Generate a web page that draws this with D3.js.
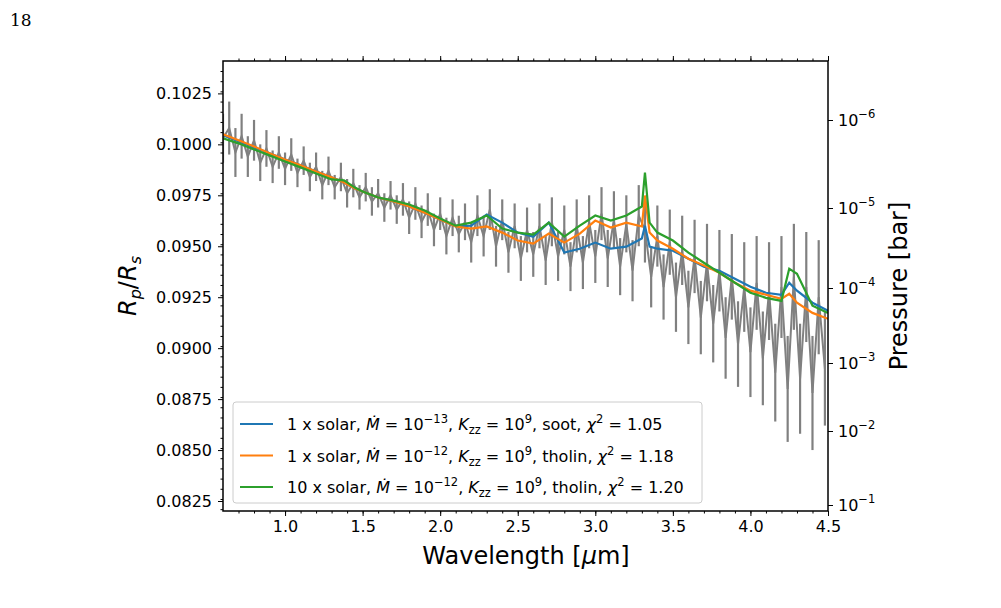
<!DOCTYPE html>
<html><head><meta charset="utf-8">
<script src="https://cdn.jsdelivr.net/npm/d3@7"></script>
<style>body{margin:0;background:#fff}svg text{font-family:"DejaVu Sans",sans-serif}</style>
</head><body><svg id="c" width="1001" height="608"></svg>
<script>
// observed spectrum: [wavelength, Rp/Rs, error]
var obs = [
[0.60,0.1003,.0012],[0.64,0.1008,.0013],[0.68,0.0996,.0012],[0.72,0.1004,.0011],[0.76,0.0994,.0010],
[0.80,0.1002,.0010],[0.84,0.0991,.0009],[0.88,0.0998,.0009],[0.92,0.0989,.0008],[0.96,0.0996,.0008],
[1.00,0.0988,.0008],[1.04,0.0995,.0008],[1.08,0.0986,.0007],[1.12,0.0992,.0007],[1.16,0.0984,.0007],
[1.20,0.0989,.0007],[1.24,0.0980,.0007],[1.28,0.0987,.0007],[1.32,0.0979,.0006],[1.36,0.0984,.0007],
[1.40,0.0976,.0007],[1.44,0.0981,.0007],[1.48,0.0974,.0006],[1.52,0.0979,.0007],[1.56,0.0972,.0007],
[1.60,0.0976,.0007],[1.64,0.0969,.0007],[1.68,0.0975,.0007],[1.72,0.0968,.0007],[1.76,0.0973,.0008],
[1.80,0.0964,.0008],[1.84,0.0971,.0008],[1.88,0.0962,.0008],[1.92,0.0968,.0008],[1.96,0.0958,.0008],
[2.00,0.0966,.0008],[2.04,0.0955,.0009],[2.08,0.0964,.0009],[2.12,0.0956,.0009],[2.16,0.0962,.0009],
[2.20,0.0952,.0010],[2.24,0.0965,.0010],[2.28,0.0955,.0010],[2.32,0.0968,.0010],[2.36,0.0950,.0010],
[2.40,0.0963,.0010],[2.44,0.0947,.0010],[2.48,0.0960,.0011],[2.52,0.0944,.0011],[2.56,0.0958,.0011],
[2.60,0.0946,.0011],[2.64,0.0960,.0011],[2.68,0.0943,.0012],[2.72,0.0962,.0012],[2.76,0.0945,.0012],
[2.80,0.0958,.0012],[2.84,0.0940,.0012],[2.88,0.0960,.0013],[2.92,0.0942,.0013],[2.96,0.0962,.0013],
[3.00,0.0945,.0013],[3.04,0.0966,.0013],[3.08,0.0944,.0014],[3.12,0.0963,.0014],[3.16,0.0940,.0014],
[3.20,0.0961,.0014],[3.24,0.0938,.0015],[3.28,0.0965,.0015],[3.32,0.0958,.0016],[3.36,0.0935,.0015],
[3.40,0.0955,.0015],[3.44,0.0930,.0016],[3.48,0.0952,.0016],[3.52,0.0925,.0017],[3.56,0.0948,.0017],
[3.60,0.0920,.0018],[3.64,0.0945,.0018],[3.68,0.0915,.0018],[3.72,0.0942,.0019],[3.76,0.0912,.0019],
[3.80,0.0938,.0020],[3.84,0.0905,.0020],[3.88,0.0935,.0021],[3.92,0.0902,.0021],[3.96,0.0930,.0022],
[4.00,0.0898,.0022],[4.04,0.0932,.0023],[4.08,0.0895,.0023],[4.12,0.0928,.0024],[4.16,0.0888,.0024],
[4.20,0.0930,.0025],[4.24,0.0880,.0026],[4.28,0.0935,.0026],[4.32,0.0885,.0027],[4.36,0.0930,.0027],
[4.40,0.0878,.0028],[4.44,0.0925,.0028],[4.48,0.0890,.0028]
];

var modelWl = [0.6,0.7,0.8,0.9,1.0,1.1,1.2,1.3,1.38,1.45,1.5,1.6,1.7,1.8,1.9,2.0,2.1,2.2,2.3,2.4,2.5,2.6,2.7,2.8,2.9,3.0,3.1,3.2,3.3,3.32,3.35,3.4,3.5,3.6,3.7,3.8,3.9,4.0,4.1,4.2,4.25,4.3,4.4,4.5];
var orange = [0.10049,0.10020,0.09990,0.09956,0.09926,0.09897,0.09867,0.09838,0.09813,0.09784,0.09769,0.09739,0.09720,0.09695,0.09665,0.09631,0.09597,0.09587,0.09597,0.09567,0.09528,0.09513,0.09562,0.09518,0.09562,0.09626,0.09592,0.09616,0.09597,0.09749,0.09567,0.09528,0.09488,0.09439,0.09405,0.09370,0.09321,0.09282,0.09262,0.09242,0.09267,0.09223,0.09173,0.09144];
var blue = [0.10044,0.10015,0.09985,0.09956,0.09926,0.09897,0.09867,0.09838,0.09813,0.09784,0.09769,0.09739,0.09720,0.09695,0.09665,0.09631,0.09597,0.09601,0.09656,0.09616,0.09567,0.09547,0.09616,0.09469,0.09488,0.09518,0.09488,0.09498,0.09538,0.09601,0.09498,0.09488,0.09478,0.09439,0.09400,0.09380,0.09341,0.09301,0.09272,0.09262,0.09321,0.09282,0.09223,0.09183];
var green = [0.10030,0.10005,0.09975,0.09946,0.09916,0.09887,0.09857,0.09828,0.09823,0.09788,0.09769,0.09739,0.09724,0.09705,0.09675,0.09636,0.09601,0.09616,0.09651,0.09587,0.09567,0.09557,0.09616,0.09547,0.09601,0.09651,0.09626,0.09651,0.09695,0.09862,0.09616,0.09567,0.09528,0.09469,0.09419,0.09370,0.09321,0.09272,0.09247,0.09232,0.09390,0.09365,0.09208,0.09173];

var series = [
  {vals: blue, color: "#1f77b4", label: ["1 x solar, ", "−13", "soot, ", "1.05"]},
  {vals: orange, color: "#ff7f0e", label: ["1 x solar, ", "−12", "tholin, ", "1.18"]},
  {vals: green, color: "#2ca02c", label: ["10 x solar, ", "−12", "tholin, ", "1.20"]}
];
var yTicks = [0.0825,0.0850,0.0875,0.0900,0.0925,0.0950,0.0975,0.1000,0.1025];
var xTicks = [1.0,1.5,2.0,2.5,3.0,3.5,4.0,4.5];
var pTicks = [1e-6,1e-5,1e-4,1e-3,1e-2,1e-1];
var pExp = ["−6","−5","−4","−3","−2","−1"];

var L = 223, R = 828, T = 61, B = 511;
var svg = d3.select("#c");
var x = d3.scaleLinear().domain([0.6,4.5]).range([L,R]);
var y = d3.scaleLinear().domain([0.08201,0.10409]).range([B,T]);
var p = d3.scaleLog().domain(pTicks).range([120,208,288,363,431,505]);

svg.append("text").attr("x",10).attr("y",26).style("font-family","'DejaVu Serif',serif")
  .attr("font-size",17).text("18");

svg.append("clipPath").attr("id","cl").append("rect")
  .attr("x",L).attr("y",T).attr("width",R-L).attr("height",B-T);
var g = svg.append("g").attr("clip-path","url(#cl)");

g.selectAll("line.err").data(obs).enter().append("line")
  .attr("x1",d=>x(d[0])).attr("x2",d=>x(d[0]))
  .attr("y1",d=>y(d[1]-d[2])).attr("y2",d=>y(d[1]+d[2]))
  .attr("stroke","#808080").attr("stroke-width",2.2);
g.append("path").datum(obs)
  .attr("d",d3.line().x(d=>x(d[0])).y(d=>y(d[1])))
  .attr("fill","none").attr("stroke","#808080").attr("stroke-width",2);

series.forEach(function(s){
  g.append("path").datum(s.vals)
    .attr("d",d3.line().x((d,i)=>x(modelWl[i])).y(d=>y(d)))
    .attr("fill","none").attr("stroke",s.color).attr("stroke-width",2.2);
});

// axes
var fs = 16;
var minorX = d3.range(7,45).map(d=>d/10);
svg.append("g").attr("transform","translate(0,"+B+")")
  .call(d3.axisBottom(x).tickValues(xTicks).tickFormat(d3.format(".1f")).tickSize(5).tickPadding(5));
svg.append("g").attr("transform","translate(0,"+B+")")
  .call(d3.axisBottom(x).tickValues(minorX).tickFormat("").tickSize(2.5));
svg.append("g").attr("transform","translate(0,"+T+")")
  .call(d3.axisTop(x).tickValues(xTicks).tickFormat("").tickSize(5));
svg.append("g").attr("transform","translate(0,"+T+")")
  .call(d3.axisTop(x).tickValues(minorX).tickFormat("").tickSize(2.5));
svg.append("g").attr("transform","translate("+L+",0)")
  .call(d3.axisLeft(y).tickValues(yTicks).tickFormat(d3.format(".4f")).tickSize(5).tickPadding(6));
svg.append("g").attr("transform","translate("+L+",0)")
  .call(d3.axisLeft(y).tickValues(d3.range(821,1041,5).map(d=>d/10000)).tickFormat("").tickSize(2.5));
svg.append("g").attr("transform","translate("+R+",0)")
  .call(d3.axisRight(p).tickValues(pTicks).tickFormat("").tickSize(5));
svg.selectAll(".domain").remove();
svg.selectAll(".tick line").attr("stroke","#000").attr("stroke-width",1);
svg.selectAll(".tick text").attr("font-size",fs).attr("fill","#000");
svg.append("rect").attr("x",L).attr("y",T).attr("width",R-L).attr("height",B-T)
  .attr("fill","none").attr("stroke","#000").attr("stroke-width",1.5);

pTicks.forEach(function(v,i){
  var t = svg.append("text").attr("x",R+10).attr("y",p(v)+6).attr("font-size",fs);
  t.append("tspan").text("10");
  t.append("tspan").attr("dy",-8).attr("font-size",11.5).text(pExp[i]);
});

svg.append("text").attr("x",526).attr("y",564).attr("text-anchor","middle").attr("font-size",24)
  .html('Wavelength [<tspan font-style="italic">μ</tspan>m]');
svg.append("text").attr("transform","translate(136,286) rotate(-90)").attr("text-anchor","middle")
  .attr("font-size",24).html('<tspan font-style="italic">R</tspan><tspan font-style="italic" font-size="16" dy="5">p</tspan><tspan dy="-5">/</tspan><tspan font-style="italic">R</tspan><tspan font-style="italic" font-size="16" dy="5">s</tspan>');
svg.append("text").attr("transform","translate(907,286) rotate(-90)").attr("text-anchor","middle")
  .attr("font-size",24).text("Pressure [bar]");

// legend
var lg = svg.append("g");
lg.append("rect").attr("x",233).attr("y",402).attr("width",469).attr("height",101).attr("rx",3)
  .attr("fill","#fff").attr("fill-opacity",0.85).attr("stroke","#ccc");
series.forEach(function(s,i){
  var yy = 424 + i*31.5;
  lg.append("line").attr("x1",240).attr("x2",273).attr("y1",yy).attr("y2",yy)
    .attr("stroke",s.color).attr("stroke-width",2.2);
  var t = lg.append("text").attr("x",287).attr("y",yy+6).attr("font-size",fs);
  t.append("tspan").text(s.label[0]);
  t.append("tspan").attr("font-style","italic").text("Ṁ");
  t.append("tspan").text(" = 10");
  t.append("tspan").attr("dy",-7).attr("font-size",11.5).text(s.label[1]);
  t.append("tspan").attr("dy",7).text(", ");
  t.append("tspan").attr("font-style","italic").text("K");
  t.append("tspan").attr("dy",4).attr("font-size",11.5).text("zz");
  t.append("tspan").attr("dy",-4).text(" = 10");
  t.append("tspan").attr("dy",-7).attr("font-size",11.5).text("9");
  t.append("tspan").attr("dy",7).text(", " + s.label[2]);
  t.append("tspan").attr("font-style","italic").text("χ");
  t.append("tspan").attr("dy",-7).attr("font-size",11.5).text("2");
  t.append("tspan").attr("dy",7).text(" = " + s.label[3]);
});
</script></body></html>
